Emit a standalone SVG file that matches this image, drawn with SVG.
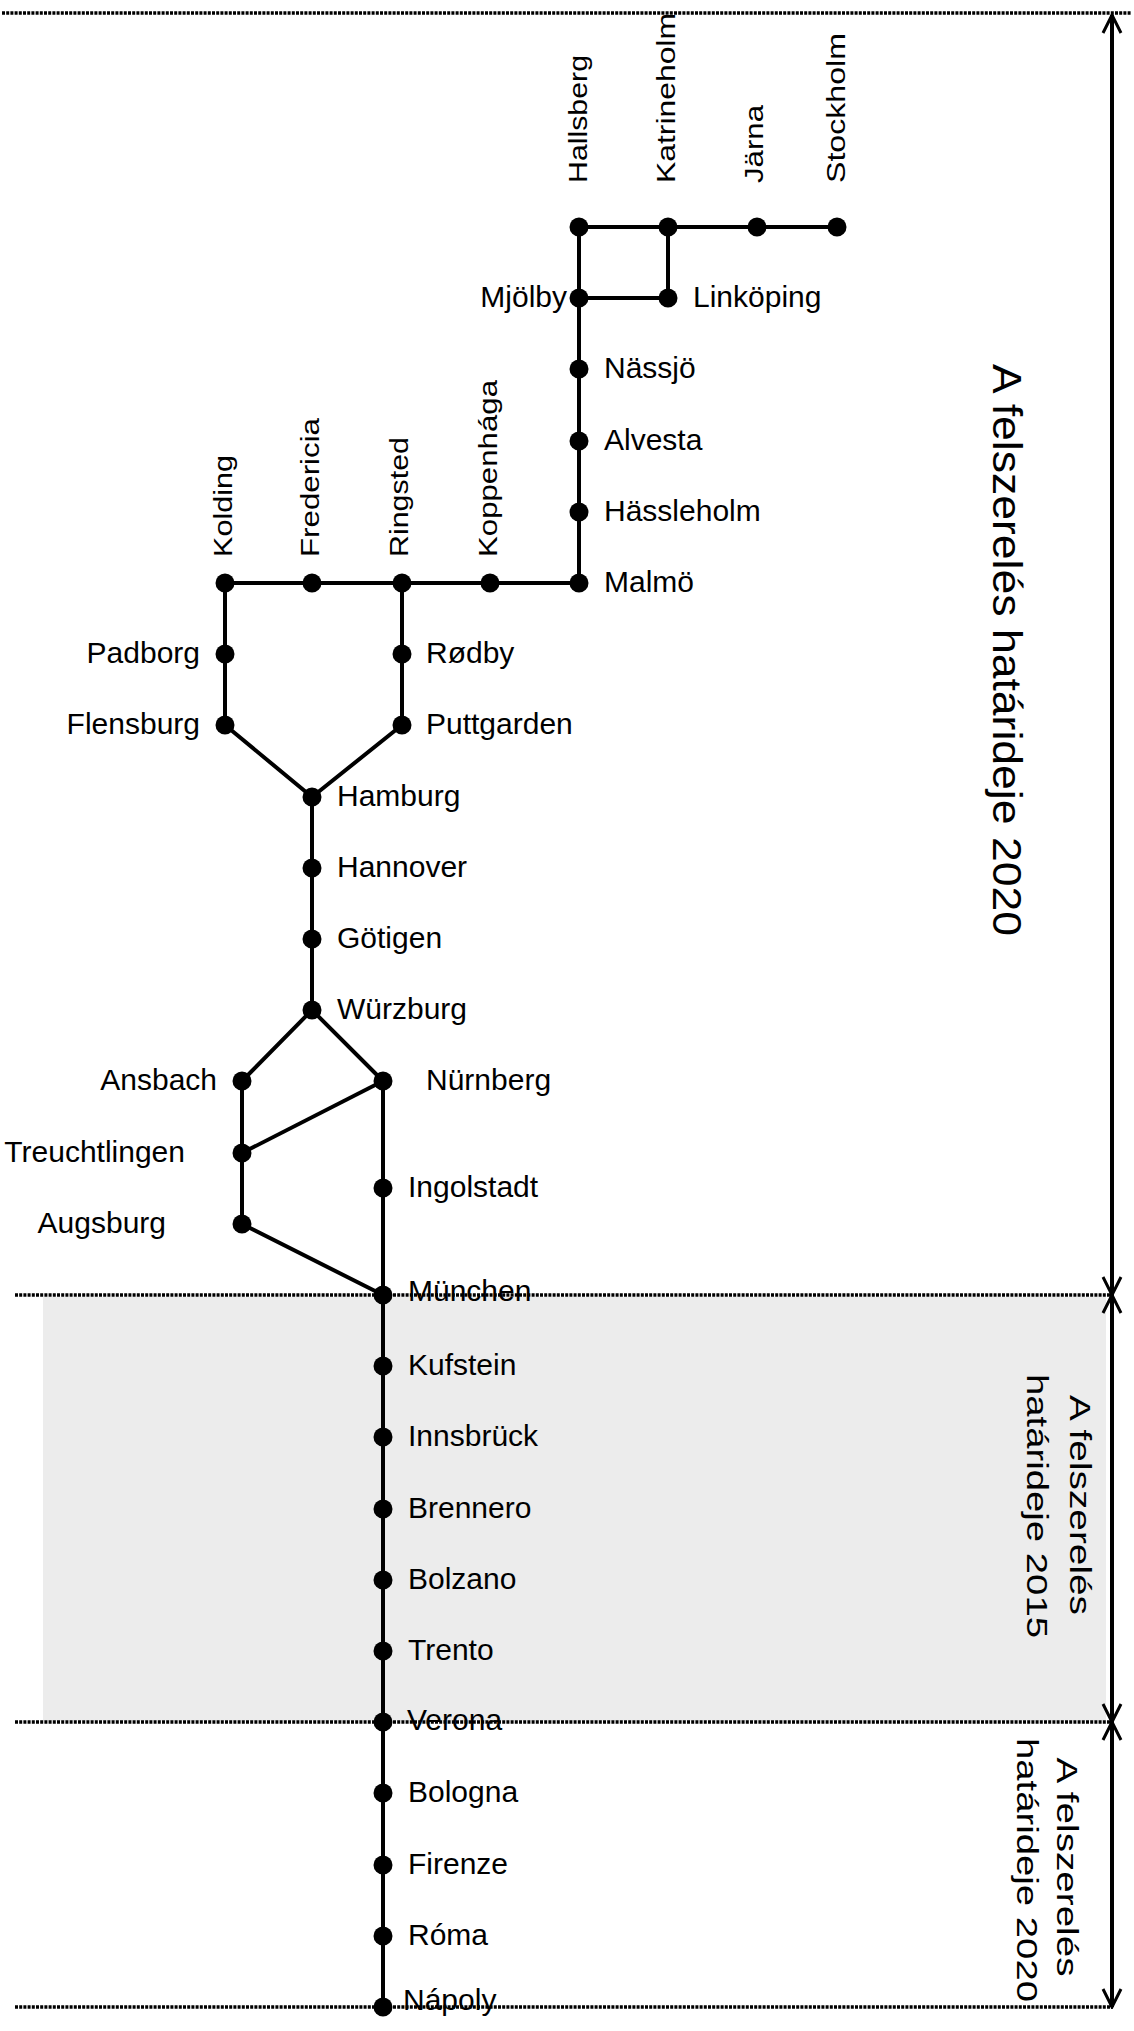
<svg xmlns="http://www.w3.org/2000/svg" width="1134" height="2031" viewBox="0 0 1134 2031">
<defs>
<marker id="ah" viewBox="-21 -11 23 22" refX="0" refY="0" markerWidth="23" markerHeight="22" markerUnits="userSpaceOnUse" orient="auto-start-reverse">
<path d="M-18,-9 L0,0 L-18,9" fill="none" stroke="#000" stroke-width="3"/>
</marker>
<style>
.e{stroke:#000;stroke-width:4;fill:none;stroke-linejoin:round}
circle{fill:#000}
text{font-family:"Liberation Sans",Arial,sans-serif;fill:#000}
.l{font-size:30px}
.r{font-size:30px;text-anchor:end}
.v{font-size:25px}
.big{font-size:40px;text-anchor:middle}
.mid{font-size:29px;text-anchor:middle}
.d{stroke:#000;stroke-width:3.5;stroke-dasharray:3 1.2;fill:none}
.rng{stroke:#000;stroke-width:4;fill:none;marker-start:url(#ah);marker-end:url(#ah)}
</style>
</defs>
<rect x="0" y="0" width="1134" height="2031" fill="#fff"/>
<g id="zones">
<rect x="43" y="1297" width="1063" height="424" fill="#ececec"/>
<line class="d" x1="2" y1="13" x2="1131" y2="13"/>
<line class="d" x1="15" y1="1295" x2="1112" y2="1295"/>
<line class="d" x1="15" y1="1722" x2="1112" y2="1722"/>
<line class="d" x1="15" y1="2007" x2="1112" y2="2007"/>
</g>
<g id="ranges">
<line class="rng" x1="1112" y1="15" x2="1112" y2="1295"/>
<line class="rng" x1="1112" y1="1295" x2="1112" y2="1722"/>
<line class="rng" x1="1112" y1="1722" x2="1112" y2="2007"/>
<text class="big" transform="translate(993,650) rotate(90)" textLength="572" lengthAdjust="spacingAndGlyphs">A felszerelés határideje 2020</text>
<text class="mid" transform="translate(1070,1505) rotate(90)" textLength="220" lengthAdjust="spacingAndGlyphs">A felszerelés</text>
<text class="mid" transform="translate(1027,1506) rotate(90)" textLength="264" lengthAdjust="spacingAndGlyphs">határideje 2015</text>
<text class="mid" transform="translate(1057,1867) rotate(90)" textLength="219" lengthAdjust="spacingAndGlyphs">A felszerelés</text>
<text class="mid" transform="translate(1017,1870) rotate(90)" textLength="264" lengthAdjust="spacingAndGlyphs">határideje 2020</text>
</g>
<g id="connectors">
<path class="e" d="M579,227 H837"/>
<path class="e" d="M579,227 V583"/>
<path class="e" d="M668,227 V298"/>
<path class="e" d="M579,298 H668"/>
<path class="e" d="M225,583 H579"/>
<path class="e" d="M225,583 V725 L312,797 V1010"/>
<path class="e" d="M402,583 V725 L312,797"/>
<path class="e" d="M312,1010 L242,1081 V1224 L383,1295"/>
<path class="e" d="M312,1010 L383,1081 V2007"/>
<path class="e" d="M242,1153 L383,1081"/>
</g>
<g id="n-hallsberg"><circle cx="579" cy="227" r="9.5"/><text class="v" transform="translate(587,183) rotate(-90)" textLength="128" lengthAdjust="spacingAndGlyphs">Hallsberg</text></g>
<g id="n-katrineholm"><circle cx="668" cy="227" r="9.5"/><text class="v" transform="translate(675,183) rotate(-90)" textLength="170" lengthAdjust="spacingAndGlyphs">Katrineholm</text></g>
<g id="n-jarna"><circle cx="757" cy="227" r="9.5"/><text class="v" transform="translate(763,183) rotate(-90)" textLength="78" lengthAdjust="spacingAndGlyphs">Järna</text></g>
<g id="n-stockholm"><circle cx="837" cy="227" r="9.5"/><text class="v" transform="translate(845,183) rotate(-90)" textLength="150" lengthAdjust="spacingAndGlyphs">Stockholm</text></g>
<g id="n-mjolby"><circle cx="579" cy="298" r="9.5"/><text class="r" x="567" y="307">Mjölby</text></g>
<g id="n-linkoping"><circle cx="668" cy="298" r="9.5"/><text class="l" x="693" y="307">Linköping</text></g>
<g id="n-nassjo"><circle cx="579" cy="369" r="9.5"/><text class="l" x="604" y="378">Nässjö</text></g>
<g id="n-alvesta"><circle cx="579" cy="441" r="9.5"/><text class="l" x="604" y="450">Alvesta</text></g>
<g id="n-hassleholm"><circle cx="579" cy="512" r="9.5"/><text class="l" x="604" y="521">Hässleholm</text></g>
<g id="n-malmo"><circle cx="579" cy="583" r="9.5"/><text class="l" x="604" y="592">Malmö</text></g>
<g id="n-kolding"><circle cx="225" cy="583" r="9.5"/><text class="v" transform="translate(232,557) rotate(-90)" textLength="102" lengthAdjust="spacingAndGlyphs">Kolding</text></g>
<g id="n-fredericia"><circle cx="312" cy="583" r="9.5"/><text class="v" transform="translate(319,557) rotate(-90)" textLength="139" lengthAdjust="spacingAndGlyphs">Fredericia</text></g>
<g id="n-ringsted"><circle cx="402" cy="583" r="9.5"/><text class="v" transform="translate(408,557) rotate(-90)" textLength="120" lengthAdjust="spacingAndGlyphs">Ringsted</text></g>
<g id="n-koppenhaga"><circle cx="490" cy="583" r="9.5"/><text class="v" transform="translate(497,557) rotate(-90)" textLength="177" lengthAdjust="spacingAndGlyphs">Koppenhága</text></g>
<g id="n-padborg"><circle cx="225" cy="654" r="9.5"/><text class="r" x="200" y="663">Padborg</text></g>
<g id="n-flensburg"><circle cx="225" cy="725" r="9.5"/><text class="r" x="200" y="734">Flensburg</text></g>
<g id="n-rodby"><circle cx="402" cy="654" r="9.5"/><text class="l" x="426" y="663">Rødby</text></g>
<g id="n-puttgarden"><circle cx="402" cy="725" r="9.5"/><text class="l" x="426" y="734">Puttgarden</text></g>
<g id="n-hamburg"><circle cx="312" cy="797" r="9.5"/><text class="l" x="337" y="806">Hamburg</text></g>
<g id="n-hannover"><circle cx="312" cy="868" r="9.5"/><text class="l" x="337" y="877">Hannover</text></g>
<g id="n-gotigen"><circle cx="312" cy="939" r="9.5"/><text class="l" x="337" y="948">Götigen</text></g>
<g id="n-wurzburg"><circle cx="312" cy="1010" r="9.5"/><text class="l" x="337" y="1019">Würzburg</text></g>
<g id="n-ansbach"><circle cx="242" cy="1081" r="9.5"/><text class="r" x="217" y="1090">Ansbach</text></g>
<g id="n-nurnberg"><circle cx="383" cy="1081" r="9.5"/><text class="l" x="426" y="1090">Nürnberg</text></g>
<g id="n-treuchtlingen"><circle cx="242" cy="1153" r="9.5"/><text class="r" x="185" y="1162">Treuchtlingen</text></g>
<g id="n-ingolstadt"><circle cx="383" cy="1188" r="9.5"/><text class="l" x="408" y="1197">Ingolstadt</text></g>
<g id="n-augsburg"><circle cx="242" cy="1224" r="9.5"/><text class="r" x="166" y="1233">Augsburg</text></g>
<g id="n-munchen"><circle cx="383" cy="1295" r="9.5"/><text class="l" x="408" y="1301">München</text></g>
<g id="n-kufstein"><circle cx="383" cy="1366" r="9.5"/><text class="l" x="408" y="1375">Kufstein</text></g>
<g id="n-innsbruck"><circle cx="383" cy="1437" r="9.5"/><text class="l" x="408" y="1446">Innsbrück</text></g>
<g id="n-brennero"><circle cx="383" cy="1509" r="9.5"/><text class="l" x="408" y="1518">Brennero</text></g>
<g id="n-bolzano"><circle cx="383" cy="1580" r="9.5"/><text class="l" x="408" y="1589">Bolzano</text></g>
<g id="n-trento"><circle cx="383" cy="1651" r="9.5"/><text class="l" x="408" y="1660">Trento</text></g>
<g id="n-verona"><circle cx="383" cy="1722" r="9.5"/><text class="l" x="407" y="1730">Verona</text></g>
<g id="n-bologna"><circle cx="383" cy="1793" r="9.5"/><text class="l" x="408" y="1802">Bologna</text></g>
<g id="n-firenze"><circle cx="383" cy="1865" r="9.5"/><text class="l" x="408" y="1874">Firenze</text></g>
<g id="n-roma"><circle cx="383" cy="1936" r="9.5"/><text class="l" x="408" y="1945">Róma</text></g>
<g id="n-napoly"><circle cx="383" cy="2007" r="9.5"/><text class="l" x="403" y="2010">Nápoly</text></g>
</svg>
